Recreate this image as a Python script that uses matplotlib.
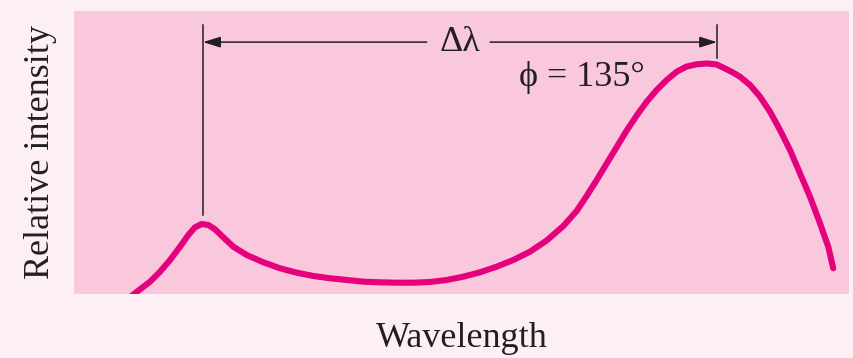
import numpy as np
import matplotlib
matplotlib.use("Agg")
import matplotlib.pyplot as plt

# spectrum traced by hand (arbitrary units, 0-100 on both axes)
wavelength = [7.35, 8.52, 9.81, 11.10, 12.39, 13.68, 14.75, 15.61, 16.48, 17.33,
              18.19, 19.26, 20.55, 22.28, 24.43, 26.58, 28.74, 30.88, 33.03, 35.19,
              37.33, 39.48, 41.64, 43.78, 45.94, 48.09, 50.23, 52.39, 54.54, 56.68,
              58.84, 60.99, 63.14, 64.86, 66.15, 67.45, 68.74, 70.03, 71.32, 72.61,
              73.90, 75.19, 76.48, 77.77, 79.06, 80.35, 81.64, 82.93, 84.00, 84.90,
              85.94, 87.23, 88.52, 89.81, 91.10, 92.39, 93.68, 94.97, 96.26, 97.33,
              97.97]
intensity = [-0.88, 1.66, 4.35, 7.88, 12.01, 16.71, 20.85, 23.57, 24.73, 24.38,
             22.86, 20.04, 16.71, 13.78, 11.20, 9.08, 7.53, 6.36, 5.55, 4.95,
             4.35, 4.13, 3.99, 3.99, 4.24, 4.95, 6.11, 7.67, 9.65, 12.01,
             14.95, 18.90, 24.03, 29.33, 34.63, 40.28, 46.11, 51.94, 57.77, 63.07,
             67.95, 72.08, 75.62, 78.55, 80.39, 81.17, 81.45, 81.10, 79.68, 78.45,
             76.78, 73.85, 69.72, 64.42, 57.95, 50.88, 42.65, 34.38, 24.98, 16.71,
             9.08]

peak_left = 16.65
peak_right = 82.97
arrow_y = 89.0
phase_label = "ϕ = 135°"

ink = "#231f20"
plt.rcParams['font.family'] = ['Liberation Serif', 'DejaVu Serif']

fig = plt.figure(figsize=(8.54, 3.58), dpi=100, facecolor="#fdf0f5")
ax = fig.add_axes([0.0867, 0.1788, 0.9074, 0.7905])
ax.set_facecolor("#f9c8dd")
for s in ax.spines.values():
    s.set_visible(False)
ax.set_xticks([])
ax.set_yticks([])
ax.set_xlim(0, 100)
ax.set_ylim(0, 100)

ax.plot(wavelength, intensity, color="#e5007d", lw=4.4,
        solid_joinstyle="round", solid_capstyle="round")

# markers for the two peaks
ax.plot([peak_left, peak_left], [95.0, 27.9], color=ink, lw=1.1)
ax.plot([peak_right, peak_right], [95.0, 83.4], color=ink, lw=1.1)

ax.text((peak_left + peak_right) / 2, arrow_y, "Δλ", fontsize=26,
        color=ink, ha="center", va="center")
ap = dict(arrowstyle="-|>,head_length=0.7,head_width=0.22",
          mutation_scale=15, shrinkA=0, shrinkB=0, lw=1.1, color=ink)
ax.annotate("", xy=(peak_left, arrow_y), xytext=(45.5, arrow_y), arrowprops=ap)
ax.annotate("", xy=(peak_right, arrow_y), xytext=(53.7, arrow_y), arrowprops=ap)

ax.text(65.5, 76.5, phase_label, fontsize=26, color=ink, ha="center", va="center")

ax.set_xlabel("Wavelength", fontsize=26, color=ink, labelpad=20)
ax.set_ylabel("Relative intensity", fontsize=26, color=ink, labelpad=12)

fig.savefig("out.png", dpi=100, facecolor=fig.get_facecolor())
